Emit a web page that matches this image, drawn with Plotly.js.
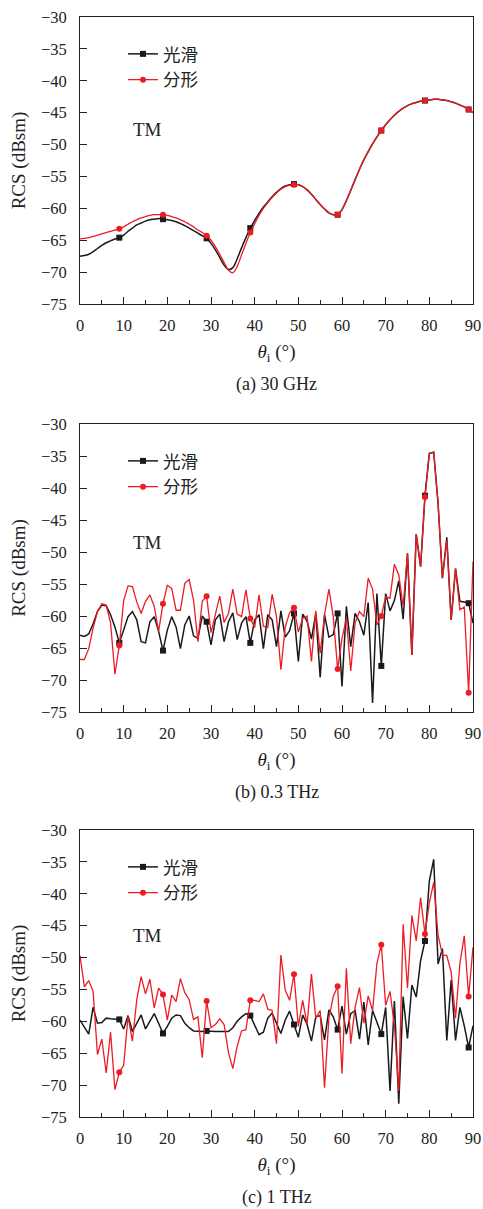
<!DOCTYPE html>
<html>
<head>
<meta charset="utf-8">
<script src="https://cdn.plot.ly/plotly-3.0.1.min.js"></script>
<style>html,body{margin:0;padding:0;background:#fff;}#chart{width:483px;height:1209px;}</style>
</head>
<body>
<div id="chart"></div>
<script>
// incidence angle, degrees
const theta = Array.from({length: 91}, (_, i) => i);

// (a) 30 GHz
const smoothA = [-67.5,-67.4,-67.2,-66.8,-66.3,-65.8,-65.4,-65.1,-64.8,-64.6,
 -64.2,-63.6,-63.1,-62.6,-62.3,-62.0,-61.8,-61.7,-61.6,-61.7,
 -61.8,-61.9,-62.1,-62.4,-62.7,-63.1,-63.5,-63.9,-64.3,-64.7,
 -65.5,-66.5,-67.7,-68.9,-69.6,-69.3,-67.9,-66.2,-64.6,-63.1,
 -61.9,-60.8,-59.8,-59.0,-58.2,-57.5,-56.9,-56.5,-56.3,-56.2,
 -56.3,-56.6,-57.1,-57.8,-58.6,-59.4,-60.1,-60.7,-61.0,-61.0,
 -60.2,-58.8,-57.2,-55.5,-53.9,-52.4,-51.1,-49.9,-48.8,-47.8,
 -46.9,-46.1,-45.4,-44.8,-44.3,-43.9,-43.6,-43.4,-43.2,-43.1,
 -43.0,-42.9,-42.9,-43.0,-43.1,-43.3,-43.5,-43.8,-44.1,-44.5,-45.0];
const fractalA = [-64.8,-64.7,-64.6,-64.4,-64.2,-64.0,-63.8,-63.6,-63.4,-63.2,
 -62.9,-62.5,-62.1,-61.8,-61.5,-61.3,-61.1,-61.0,-61.0,-61.0,
 -61.1,-61.3,-61.5,-61.8,-62.1,-62.5,-62.9,-63.4,-63.8,-64.3,
 -65.0,-66.0,-67.2,-68.5,-69.7,-70.1,-69.1,-67.3,-65.5,-63.8,
 -62.4,-61.1,-60.0,-59.1,-58.3,-57.6,-57.0,-56.6,-56.4,-56.3,
 -56.3,-56.6,-57.1,-57.8,-58.6,-59.4,-60.1,-60.7,-61.0,-61.0,
 -60.2,-58.8,-57.2,-55.5,-53.9,-52.4,-51.1,-49.9,-48.8,-47.8,
 -46.9,-46.1,-45.4,-44.8,-44.3,-43.9,-43.6,-43.4,-43.2,-43.1,
 -43.0,-42.9,-42.9,-43.0,-43.1,-43.3,-43.5,-43.8,-44.1,-44.5,-45.0];

// (b) 0.3 THz
const smoothB = [-63.0,-63.2,-62.8,-61.2,-59.3,-58.3,-58.4,-59.8,-61.7,-64.2,
 -62.2,-60.1,-59.3,-60.6,-64.0,-64.2,-60.9,-60.1,-62.4,-65.4,
 -62.2,-60.1,-61.7,-65.1,-61.4,-60.0,-63.1,-63.5,-60.0,-60.9,
 -64.5,-60.6,-59.7,-64.0,-60.9,-59.5,-63.7,-61.1,-60.1,-64.2,
 -60.6,-59.8,-65.1,-59.8,-60.6,-64.8,-59.2,-63.3,-62.3,-59.6,
 -67.1,-59.7,-60.8,-63.6,-59.6,-69.6,-59.8,-63.3,-62.9,-59.6,
 -71.0,-58.5,-64.8,-59.6,-60.9,-63.0,-57.9,-73.6,-56.5,-67.8,
 -56.5,-59.2,-57.6,-54.5,-60.5,-50.2,-66.1,-47.2,-52.3,-41.2,
 -34.6,-34.4,-42.4,-54.1,-47.7,-60.6,-52.6,-57.7,-57.8,-58.0,-61.1];
const fractalB = [-66.8,-66.8,-65.1,-61.9,-59.3,-58.1,-58.3,-61.1,-69.1,-64.6,
 -57.6,-55.3,-55.4,-57.8,-59.6,-57.7,-56.7,-58.5,-62.4,-58.1,
 -55.2,-55.7,-59.1,-59.1,-54.9,-54.3,-57.5,-64.0,-57.7,-56.9,
 -62.6,-59.8,-56.9,-61.0,-59.6,-55.8,-59.7,-60.1,-55.9,-60.4,
 -61.8,-56.7,-61.6,-61.8,-56.6,-60.1,-68.4,-61.7,-59.5,-58.7,
 -62.5,-60.4,-60.0,-67.1,-59.2,-65.8,-59.8,-55.8,-60.1,-68.3,
 -63.5,-60.4,-68.6,-61.1,-59.3,-60.1,-54.1,-55.8,-61.4,-60.0,
 -57.0,-57.2,-51.9,-53.6,-58.5,-50.2,-66.1,-47.2,-52.3,-41.4,
 -34.6,-34.4,-42.4,-54.1,-48.2,-60.6,-52.6,-59.0,-58.6,-72.0,-51.5];

// (c) 1 THz
const smoothC = [-59.8,-61.0,-62.0,-57.8,-60.3,-60.2,-59.5,-59.6,-59.6,-59.7,
 -61.2,-59.1,-61.6,-60.2,-59.0,-61.2,-60.0,-58.8,-60.3,-61.9,
 -60.8,-59.5,-59.0,-59.1,-60.3,-61.0,-61.5,-61.6,-61.6,-61.5,
 -61.6,-61.6,-61.6,-61.6,-61.6,-61.0,-60.0,-59.3,-58.8,-59.1,
 -60.5,-62.1,-61.7,-59.5,-58.7,-60.3,-61.9,-59.8,-58.4,-60.5,
 -62.5,-59.0,-60.5,-63.1,-59.3,-59.1,-62.9,-58.2,-59.3,-61.3,
 -57.6,-62.0,-58.8,-58.3,-62.8,-57.0,-63.7,-58.3,-60.1,-62.0,
 -57.8,-70.9,-56.8,-72.9,-56.1,-62.7,-54.3,-56.2,-50.5,-47.4,
 -38.0,-34.6,-51.0,-48.6,-63.0,-53.5,-63.0,-57.8,-60.7,-64.1,-60.7];
const fractalC = [-49.7,-54.6,-53.6,-55.3,-65.2,-62.8,-68.1,-61.7,-70.7,-68.0,
 -66.9,-59.2,-63.1,-56.6,-53.0,-55.7,-53.4,-57.9,-54.8,-55.8,
 -59.8,-55.9,-56.9,-53.3,-55.5,-56.6,-59.7,-59.3,-65.7,-56.8,
 -61.0,-60.5,-59.6,-60.5,-64.9,-67.4,-63.9,-61.5,-61.3,-56.7,
 -56.7,-56.9,-55.7,-58.1,-58.3,-63.5,-49.6,-55.1,-56.7,-52.6,
 -60.8,-56.7,-60.5,-52.6,-59.5,-58.3,-70.4,-59.5,-56.1,-54.5,
 -68.2,-51.7,-63.5,-57.8,-54.7,-60.3,-56.0,-58.3,-50.9,-48.0,
 -57.5,-55.3,-60.7,-70.9,-44.8,-54.8,-43.4,-47.4,-40.6,-46.3,
 -41.4,-38.2,-46.5,-49.6,-49.7,-52.3,-59.5,-50.9,-46.6,-56.1,-48.4];

const seriesNames = ['光滑', '分形'];
const panelCaptions = ['(a) 30 GHz', '(b) 0.3 THz', '(c) 1 THz'];
const xTicks = [0, 10, 20, 30, 40, 50, 60, 70, 80, 90];
const yTicks = [-75, -70, -65, -60, -55, -50, -45, -40, -35, -30];

const FONT = "'Liberation Serif', 'DejaVu Serif', 'Noto Sans CJK SC', serif";
const BLACK = '#1a1a1a';
const RED = '#ec1c24';
const H = 1209;
const markIdx = theta.map((v, i) => (v % 10 === 9 ? i : -1)).filter(i => i >= 0);

// panel pixel boxes (top, bottom) of plot areas
const boxes = [[17, 304], [424, 712], [830, 1117]];
const sets = [[smoothA, fractalA], [smoothB, fractalB], [smoothC, fractalC]];

const data = [];
const layout = {
  width: 483, height: H,
  margin: {l: 80, r: 10, t: 0, b: 0},
  paper_bgcolor: '#fff', plot_bgcolor: '#fff',
  font: {family: FONT, size: 16, color: '#222'},
  showlegend: true,
  annotations: []
};

sets.forEach((pair, p) => {
  const n = p === 0 ? '' : String(p + 1);
  const xa = 'x' + n, ya = 'y' + n;
  const legendName = 'legend' + n;
  const [top, bot] = boxes[p];
  pair.forEach((vals, s) => {
    data.push({
      type: 'scatter', mode: 'lines+markers',
      x: theta, y: vals, name: seriesNames[s],
      xaxis: xa, yaxis: ya, legend: legendName,
      line: {color: s === 0 ? BLACK : RED, width: s === 0 ? 1.5 : 1.3,
             shape: p === 0 ? 'spline' : 'linear', smoothing: 1},
      marker: {symbol: s === 0 ? 'square' : 'circle', size: 6, color: s === 0 ? BLACK : RED},
      selectedpoints: markIdx,
      selected: {marker: {opacity: 1}},
      unselected: {marker: {opacity: 0}},
      hoverinfo: 'x+y'
    });
  });
  layout['xaxis' + n] = {
    domain: [0, 1], anchor: ya, range: [0, 90],
    tickvals: xTicks, ticks: 'inside', ticklen: 7, tickwidth: 1, tickcolor: '#222',
    minor: {dtick: 5, tick0: 0, ticks: 'inside', ticklen: 4, tickcolor: '#222'},
    showline: true, mirror: true, linecolor: '#222', linewidth: 1,
    showgrid: false, zeroline: false, fixedrange: true,
    tickfont: {size: 16.5}, ticklabelstandoff: 6,
    title: {text: '<i>θ</i><sub>i</sub> (°)', font: {size: 19}, standoff: 10}
  };
  layout['yaxis' + n] = {
    domain: [1 - bot / H, 1 - top / H], anchor: xa, range: [-75, -30],
    tickvals: yTicks, ticks: 'inside', ticklen: 7, tickwidth: 1, tickcolor: '#222',
    showline: true, mirror: true, linecolor: '#222', linewidth: 1,
    showgrid: false, zeroline: false, fixedrange: true,
    tickfont: {size: 16.5}, ticklabelstandoff: 9,
    title: {text: 'RCS (dBsm)', font: {size: 19}, standoff: 10}
  };
  layout[legendName] = {
    x: 43 / 393, y: 1 - (top + 19) / H, xanchor: 'left', yanchor: 'top',
    bgcolor: 'rgba(0,0,0,0)', borderwidth: 0,
    font: {family: FONT, size: 17.5, color: '#222'},
    tracegroupgap: 0, itemwidth: 30
  };
  layout.annotations.push({
    xref: xa, yref: ya, x: 15.5, y: [-47.7, -48.5, -46.6][p],
    text: 'TM', showarrow: false, font: {size: 19, color: '#222'}
  });
  layout.annotations.push({
    xref: 'paper', yref: 'paper', x: 0.5, y: 1 - (bot + 80) / H,
    yanchor: 'middle', text: panelCaptions[p], showarrow: false,
    font: {size: 18, color: '#222'}
  });
});

Plotly.newPlot('chart', data, layout, {displayModeBar: false, staticPlot: true});
</script>
</body>
</html>
